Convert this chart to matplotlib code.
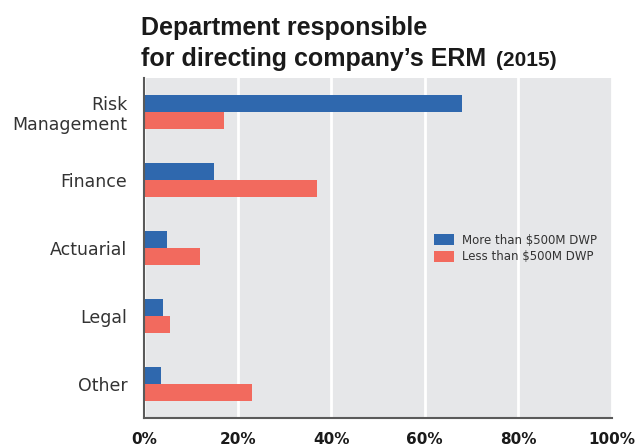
import matplotlib.pyplot as plt
import numpy as np

departments = ["Risk\nManagement", "Finance", "Actuarial", "Legal", "Other"]
large_insurers = [68, 15, 5, 4, 3.6]     # More than $500M DWP (%)
small_insurers = [17, 37, 12, 5.6, 23]   # Less than $500M DWP (%)
series_labels = ["More than $500M DWP", "Less than $500M DWP"]
x_ticks = [0, 20, 40, 60, 80, 100]
title_lines = ["Department responsible", "for directing company\u2019s ERM"]
title_year = "(2015)"

BLUE = "#2F68AE"
RED = "#F26A5E"
BG = "#E6E7E9"
TEXT = "#333333"

fig = plt.figure(figsize=(6.39, 4.48), dpi=100)
ax = fig.add_axes([144 / 639, 1 - 418 / 448, (612 - 144) / 639, (418 - 78) / 448])
ax.set_facecolor(BG)

y = np.arange(len(departments))
h = 0.257
ax.barh(y - h / 2, large_insurers, height=h, color=BLUE, label=series_labels[0], zorder=3)
ax.barh(y + h / 2, small_insurers, height=h, color=RED, label=series_labels[1], zorder=3)

ax.set_xlim(0, 100)
ax.set_ylim(len(departments) - 0.5, -0.5)
ax.set_xticks(x_ticks)
ax.set_xticklabels([f"{t}%" for t in x_ticks], fontsize=11, fontweight="bold",
                   color="#1a1a1a", family="DejaVu Sans")
ax.tick_params(axis="x", length=0, pad=10)
ax.set_yticks(y)
ax.set_yticklabels(departments, fontsize=12.5, color=TEXT, linespacing=1.15)
ax.tick_params(axis="y", length=0, pad=12)

ax.grid(axis="x", color="white", linewidth=2, zorder=1)
ax.set_axisbelow(True)
for side in ("top", "right"):
    ax.spines[side].set_visible(False)
for side in ("left", "bottom"):
    ax.spines[side].set_color("#5a5a5a")
    ax.spines[side].set_linewidth(1.5)
    ax.spines[side].set_zorder(4)

leg = ax.legend(loc="upper left", bbox_to_anchor=((429 - 144) / 468, 1 - (229 - 78) / 340),
                frameon=False, fontsize=8.5, handlelength=1.7, handleheight=1.0,
                handletextpad=0.7, labelspacing=0.3, borderaxespad=0)
for t in leg.get_texts():
    t.set_color(TEXT)

title_font = ["Liberation Sans", "DejaVu Sans"]
fig.text(141 / 639, 1 - 35 / 448, title_lines[0], fontsize=18, fontweight="bold",
         family=title_font, color="#1a1a1a", va="baseline")
t2 = fig.text(141 / 639, 1 - 66 / 448, title_lines[1], fontsize=18, fontweight="bold",
              family=title_font, color="#1a1a1a", va="baseline")
fig.canvas.draw()
bb = t2.get_window_extent()
fig.text((bb.x1 + 10) / 639, 1 - 66 / 448, title_year, fontsize=15, fontweight="bold",
         family=title_font, color="#1a1a1a", va="baseline")

fig.savefig("out.png", dpi=100)
